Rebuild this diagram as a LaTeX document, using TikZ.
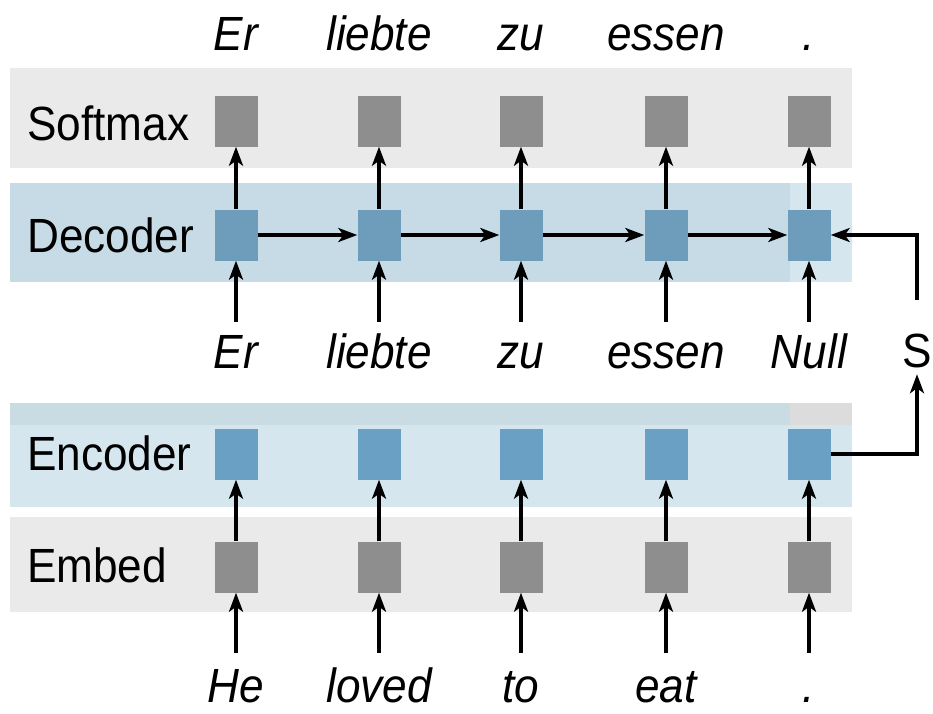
\documentclass[tikz,border=0pt]{standalone}
\usepackage{fontspec}
\setmainfont{Liberation Sans}[FakeStretch=0.92]
\usetikzlibrary{arrows.meta}

\definecolor{bandgray}{HTML}{EAEAEA}
\definecolor{bandblue}{HTML}{C6DBE5}
\definecolor{bandbluelight}{HTML}{D5E6EE}
\definecolor{bandbluetop}{HTML}{C9DCE4}
\definecolor{stripgray}{HTML}{DCDCDC}
\definecolor{cellgray}{HTML}{8E8E8E}
\definecolor{decblue}{HTML}{6D9DBA}
\definecolor{encblue}{HTML}{6AA0C4}

\begin{document}
\begin{tikzpicture}[x=1pt,y=-1pt,
  cell/.style={minimum width=43pt,minimum height=51pt,inner sep=0pt},
  gcell/.style={cell,fill=cellgray},
  dcell/.style={cell,fill=decblue},
  ecell/.style={cell,fill=encblue},
  word/.style={font=\fontsize{48}{58}\selectfont\itshape,anchor=base,
    inner sep=0pt,text height=34pt,text depth=4pt},
  plain/.style={font=\fontsize{48}{58}\selectfont,anchor=base,
    inner sep=0pt,text height=34pt,text depth=4pt},
  rowlabel/.style={font=\fontsize{48}{58}\selectfont,anchor=base west,inner sep=0pt},
  link/.style={line width=3.4pt,draw=black},
  arr/.style={link,-{Stealth[length=19pt,width=14pt,inset=5pt]}}
]
\useasboundingbox (0,0) rectangle (933,713);

% layer bands
\fill[bandgray] (10,68) rectangle (852,168);
\fill[bandblue] (10,183) rectangle (790,282);
\fill[bandbluelight] (790,183) rectangle (852,282);
\fill[bandbluelight] (10,403) rectangle (852,507);
\fill[bandbluetop] (10,403) rectangle (790,425);
\fill[stripgray] (790,403) rectangle (852,425);
\fill[bandgray] (10,517) rectangle (852,612);

% row labels
\node[rowlabel] (lsoft) at (27,140) {Softmax};
\node[rowlabel] (ldec)  at (27,252) {Decoder};
\node[rowlabel] (lenc)  at (27,470) {Encoder};
\node[rowlabel] (lemb)  at (27,582) {Embed};

% cells of each layer
\foreach \x [count=\i] in {236,379,521,666,809} {
  \node[gcell] (s\i) at (\x,121) {};
  \node[dcell] (d\i) at (\x,235) {};
  \node[ecell] (e\i) at (\x,454) {};
  \node[gcell] (m\i) at (\x,567) {};
}

% output words, decoder inputs, source words
\foreach \x/\w [count=\i] in {236/Er,379/liebte,521/zu,666/essen,809/.}
  \node[word] (t\i) at (\x,50) {\w};
\foreach \x/\w [count=\i] in {236/Er,379/liebte,521/zu,666/essen,809/Null}
  \node[word] (c\i) at (\x,368) {\w};
\foreach \x/\w [count=\i] in {236/He,379/loved,521/to,666/eat,809/.}
  \node[word] (b\i) at (\x,702) {\w};
\node[plain] (S) at (917,367) {S};

% vertical flow
\foreach \i in {1,...,5} {
  \draw[arr,shorten <=15pt] (m\i |- b\i.north) -- (m\i.south);
  \draw[arr] (m\i.north) -- (e\i.south);
  \draw[arr,shorten <=12pt] (d\i |- c\i.north) -- (d\i.south);
  \draw[arr] (d\i.north) -- (s\i.south);
}

% recurrence along the decoder
\foreach \i/\j in {1/2,2/3,3/4,4/5}
  \draw[arr] (d\i.east) -- (d\j.west);

% encoder state S fed into the decoder
\draw[arr,shorten >=3pt] (e5.east) -| (S.south);
\draw[arr,shorten <=33pt] (S.north) |- (d5.east);
\end{tikzpicture}
\end{document}
